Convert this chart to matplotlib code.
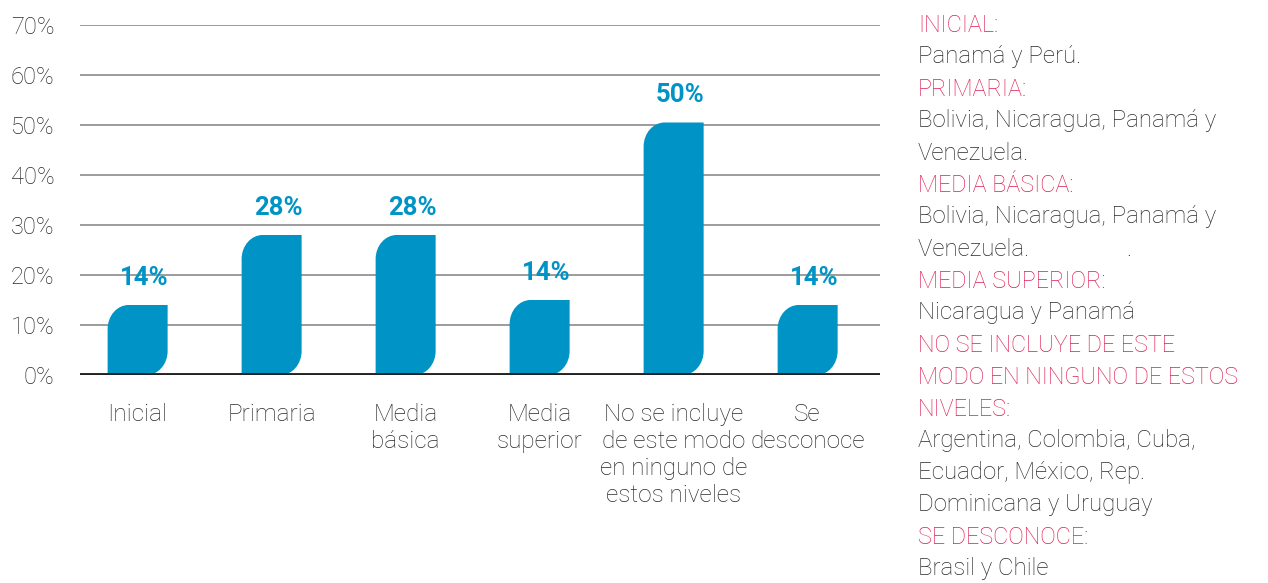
import matplotlib.pyplot as plt
import numpy as np
from matplotlib.path import Path
from matplotlib.patches import PathPatch

plt.rcParams['font.family'] = ['Roboto', 'DejaVu Sans']

# Data
categories = ['Inicial', 'Primaria', 'Media\nbásica', 'Media\nsuperior',
              'No se incluye\nde este modo\nen ninguno de\nestos niveles', 'Se\ndesconoce']
values = [14, 28, 28, 15, 50.5, 14]
value_labels = ['14%', '28%', '28%', '14%', '50%', '14%']
yticks = [0, 10, 20, 30, 40, 50, 60, 70]

notes = [
    ('INICIAL:', True), ('Panamá y Perú.', False),
    ('PRIMARIA:', True), ('Bolivia, Nicaragua, Panamá y', False), ('Venezuela.', False),
    ('MEDIA BÁSICA:', True), ('Bolivia, Nicaragua, Panamá y', False),
    ('Venezuela.                 .', False),
    ('MEDIA SUPERIOR:', True), ('Nicaragua y Panamá', False),
    ('NO SE INCLUYE DE ESTE', True), ('MODO EN NINGUNO DE ESTOS', True), ('NIVELES:', True),
    ('Argentina, Colombia, Cuba,', False), ('Ecuador, México, Rep.', False),
    ('Dominicana y Uruguay', False),
    ('SE DESCONOCE:', True), ('Brasil y Chile', False),
]

blue = '#0093c5'
pink = '#dc1f55'
dark = '#2a2a2a'

fig = plt.figure(figsize=(12.68, 5.83), dpi=100)
ax = fig.add_axes([80 / 1268, 208 / 583, 800 / 1268, 350 / 583])

x = np.arange(len(categories))
w = 60 / 134
rx = 21 / 134
ry = 24 / 5
k = 0.5523


def leaf(x0, w, h):
    # bar with rounded top-left and bottom-right corners
    x1 = x0 + w
    verts = [
        (x0, 0), (x1 - rx, 0),
        (x1 - rx + k * rx, 0), (x1, ry - k * ry), (x1, ry),
        (x1, h),
        (x0 + rx, h),
        (x0 + rx - k * rx, h), (x0, h - ry + k * ry), (x0, h - ry),
        (x0, 0), (x0, 0),
    ]
    codes = [Path.MOVETO, Path.LINETO,
             Path.CURVE4, Path.CURVE4, Path.CURVE4,
             Path.LINETO, Path.LINETO,
             Path.CURVE4, Path.CURVE4, Path.CURVE4,
             Path.LINETO, Path.CLOSEPOLY]
    return Path(verts, codes)


for xi, v, lab in zip(x, values, value_labels):
    ax.add_patch(PathPatch(leaf(xi - w / 2, w, v), facecolor=blue, edgecolor='none', zorder=3))
    ax.text(xi + 0.05, v + 5.4, lab, ha='center', va='center', color=blue,
            fontsize=18.5, fontweight='bold')

for t in yticks[1:]:
    ax.axhline(t, color='#949494', lw=1.3, zorder=1)
ax.axhline(0, color='#222222', lw=2.8, zorder=4)

ax.set_xlim(-0.43, 5.54)
ax.set_ylim(0, 70)
ax.set_yticks(yticks)
ax.set_yticklabels([f'{t}%' for t in yticks], fontsize=17, color=dark, fontweight='light')
ax.set_xticks(x)
ax.set_xticklabels(categories, fontsize=17.5, color=dark, fontweight='light', linespacing=1.22)
ax.tick_params(axis='y', length=0, pad=18.5)
ax.tick_params(axis='x', length=0, pad=20.5)
for s in ax.spines.values():
    s.set_visible(False)

for i, (txt, head) in enumerate(notes):
    fig.text(918 / 1268, 1 - (25 + 32 * i) / 583, txt, ha='left', va='center',
             fontsize=16.8 if head else 17.3, fontweight='light', color=pink if head else dark)

fig.savefig('out.png', dpi=100)
